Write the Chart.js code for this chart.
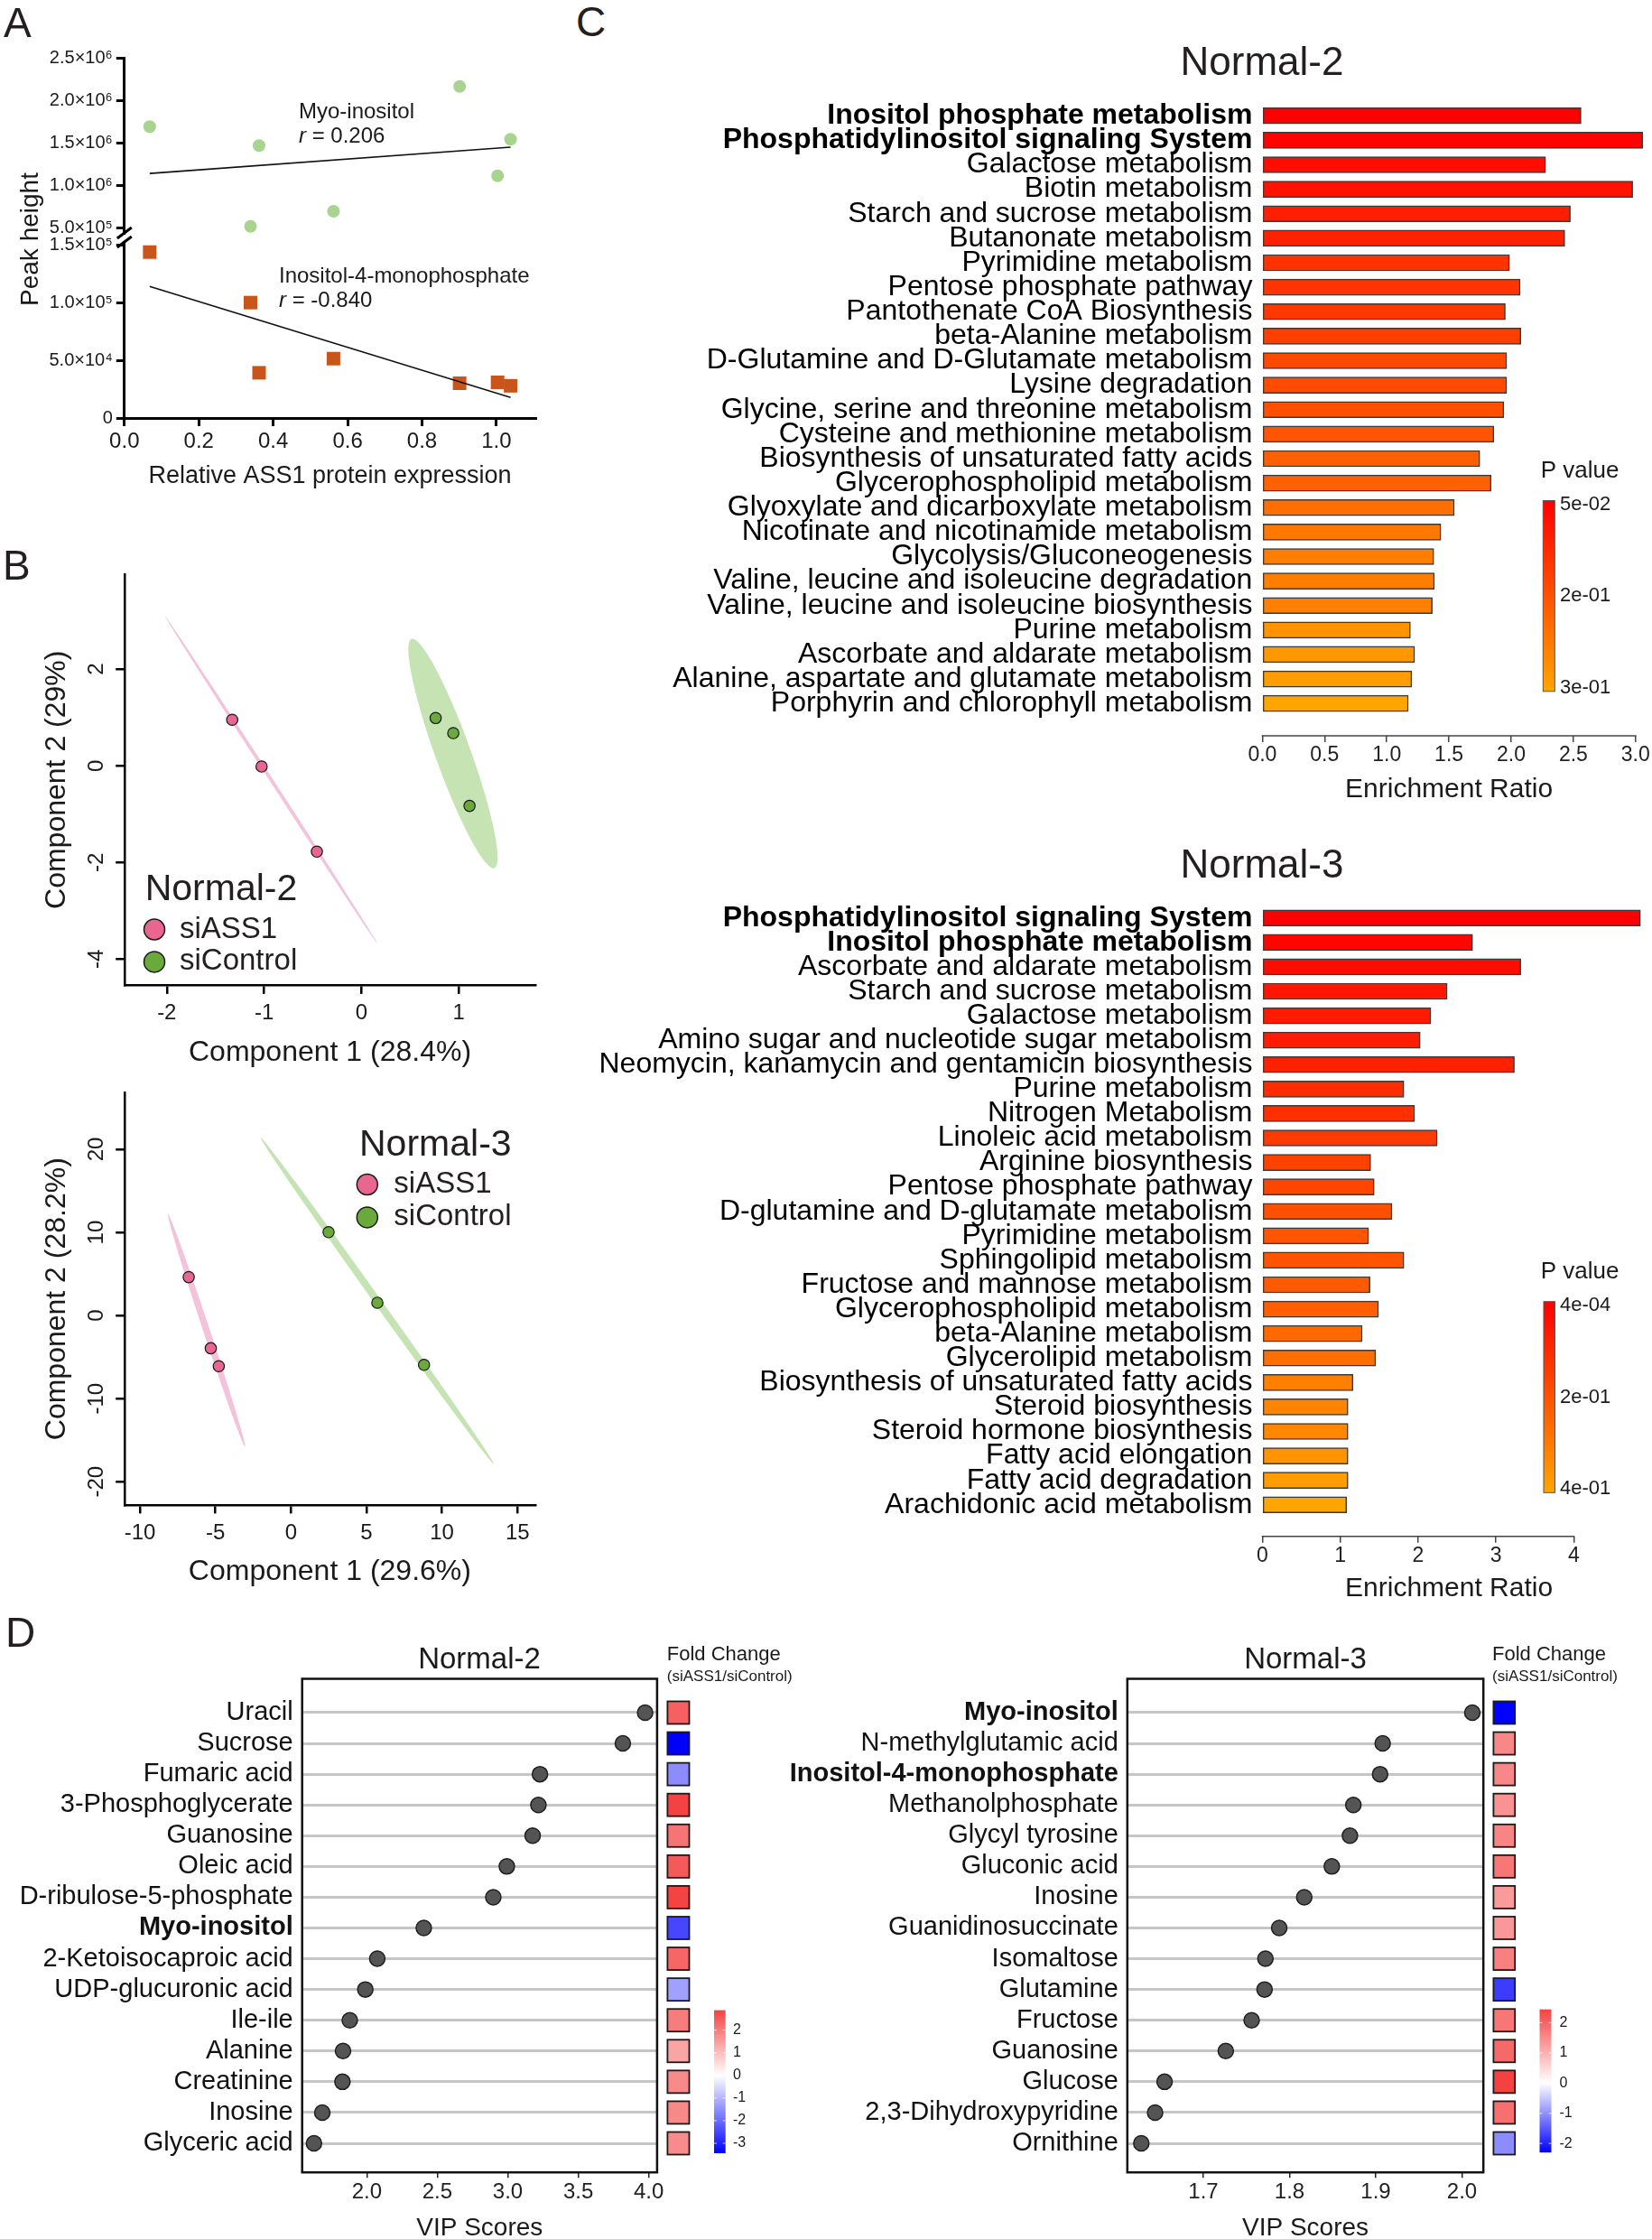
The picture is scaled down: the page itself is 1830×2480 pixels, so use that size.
<!DOCTYPE html>
<html><head><meta charset="utf-8"><title>ASS1 metabolomics figure</title>
<script src="https://cdn.jsdelivr.net/npm/chart.js@4.4.1/dist/chart.umd.min.js"></script>
<style>
html,body{margin:0;padding:0;background:#fff;}
body{position:relative;width:1830px;height:2480px;overflow:hidden;font-family:"Liberation Sans",Arial,Helvetica,sans-serif;color:#1a1a1a;}
canvas{position:absolute;}
.t{position:absolute;white-space:nowrap;line-height:1;}
</style></head>
<body>
<script>
// ================= DATA =================
// Panel A
const aExpr = [0.068, 0.339, 0.362, 0.562, 0.901, 1.003, 1.038];
const aMyoInositol = [1.696e6, 0.518e6, 1.472e6, 0.697e6, 2.170e6, 1.116e6, 1.547e6];
const aIns4P = [1.442e5, 1.003e5, 3.93e4, 5.16e4, 3.02e4, 3.10e4, 2.80e4];
const aMyoFitX = [0.068, 1.038], aMyoFitY = [1.143e6, 1.453e6];
const aInsFitX = [0.068, 1.038], aInsFitY = [1.143e5, 1.79e4];
const aXTicks = [0, 0.2, 0.4, 0.6, 0.8, 1.0];
const aUpperTicks = [5e5, 1e6, 1.5e6, 2e6, 2.5e6];
const aUpperTickLabels = ['5.0×10⁵', '1.0×10⁶', '1.5×10⁶', '2.0×10⁶', '2.5×10⁶'];
const aLowerTicks = [0, 5e4, 1e5, 1.5e5];
const aLowerTickLabels = ['0', '5.0×10⁴', '1.0×10⁵', '1.5×10⁵'];

// Panel B
const bGroups = ['siASS1', 'siControl'];
const b2SiASS1X = [-1.328, -1.026, -0.458], b2SiASS1Y = [0.952, -0.015, -1.776];
const b2SiCtrlX = [0.763, 0.944, 1.111], b2SiCtrlY = [0.988, 0.676, -0.829];
const b2EllASS1 = {from: [-2.018, 3.094], to: [0.163, -3.675], ratio: 0.009};
const b2EllCtrl = {from: [0.515, 2.626], to: [1.367, -2.118], ratio: 0.145};
const b2XTicks = [-2, -1, 0, 1], b2YTicks = [-4, -2, 0, 2];
const b3SiASS1X = [-6.77, -5.31, -4.78], b3SiASS1Y = [4.62, -3.94, -6.10];
const b3SiCtrlX = [2.49, 5.72, 8.81], b3SiCtrlY = [10.03, 1.54, -5.94];
const b3EllASS1 = {from: [-8.14, 12.19], to: [-3.04, -15.8], ratio: 0.027};
const b3EllCtrl = {from: [-2.01, 21.41], to: [13.43, -17.87], ratio: 0.018};
const b3XTicks = [-10, -5, 0, 5, 10, 15], b3YTicks = [-20, -10, 0, 10, 20];

// Panel C
const cN2Paths = ['Inositol phosphate metabolism','Phosphatidylinositol signaling System','Galactose metabolism','Biotin metabolism','Starch and sucrose metabolism','Butanonate metabolism','Pyrimidine metabolism','Pentose phosphate pathway','Pantothenate CoA Biosynthesis','beta-Alanine metabolism','D-Glutamine and D-Glutamate metabolism','Lysine degradation','Glycine, serine and threonine metabolism','Cysteine and methionine metabolism','Biosynthesis of unsaturated fatty acids','Glycerophospholipid metabolism','Glyoxylate and dicarboxylate metabolism','Nicotinate and nicotinamide metabolism','Glycolysis/Gluconeogenesis','Valine, leucine and isoleucine degradation','Valine, leucine and isoleucine biosynthesis','Purine metabolism','Ascorbate and aldarate metabolism','Alanine, aspartate and glutamate metabolism','Porphyrin and chlorophyll metabolism'];
const cN2Ratio = [2.562,3.057,2.277,2.977,2.476,2.431,1.987,2.072,1.953,2.078,1.964,1.964,1.941,1.861,1.748,1.839,1.543,1.435,1.378,1.383,1.366,1.190,1.224,1.201,1.173];
const cN2P = [0.050,0.055,0.071,0.077,0.096,0.100,0.126,0.129,0.135,0.144,0.159,0.162,0.171,0.179,0.194,0.196,0.217,0.232,0.241,0.241,0.244,0.274,0.280,0.286,0.300];
const cN2Bold = [0, 1];
const cN2XTicks = [0, 0.5, 1.0, 1.5, 2.0, 2.5, 3.0];
const cN2PRange = [0.05, 0.3];
const cN2PLabels = ['5e-02', '2e-01', '3e-01'];

const cN3Paths = ['Phosphatidylinositol signaling System','Inositol phosphate metabolism','Ascorbate and aldarate metabolism','Starch and sucrose metabolism','Galactose metabolism','Amino sugar and nucleotide sugar metabolism','Neomycin, kanamycin and gentamicin biosynthesis','Purine metabolism','Nitrogen Metabolism','Linoleic acid metabolism','Arginine biosynthesis','Pentose phosphate pathway','D-glutamine and D-glutamate metabolism','Pyrimidine metabolism','Sphingolipid metabolism','Fructose and mannose metabolism','Glycerophospholipid metabolism','beta-Alanine metabolism','Glycerolipid metabolism','Biosynthesis of unsaturated fatty acids','Steroid biosynthesis','Steroid hormone biosynthesis','Fatty acid elongation','Fatty acid degradation','Arachidonic acid metabolism'];
const cN3Ratio = [4.855,2.700,3.318,2.373,2.164,2.027,3.236,1.818,1.955,2.245,1.391,1.436,1.664,1.364,1.818,1.382,1.491,1.282,1.455,1.164,1.100,1.100,1.100,1.100,1.082];
const cN3P = [0.0004,0.013,0.030,0.051,0.063,0.068,0.078,0.107,0.117,0.141,0.160,0.168,0.194,0.206,0.206,0.218,0.231,0.257,0.267,0.308,0.323,0.330,0.359,0.378,0.400];
const cN3Bold = [0, 1];
const cN3XTicks = [0, 1, 2, 3, 4];
const cN3PRange = [0.0004, 0.4];
const cN3PLabels = ['4e-04', '2e-01', '4e-01'];

// Panel D
const dN2Names = ['Uracil','Sucrose','Fumaric acid','3-Phosphoglycerate','Guanosine','Oleic acid','D-ribulose-5-phosphate','Myo-inositol','2-Ketoisocaproic acid','UDP-glucuronic acid','Ile-ile','Alanine','Creatinine','Inosine','Glyceric acid'];
const dN2Vip = [3.974,3.816,3.228,3.217,3.176,2.993,2.897,2.404,2.074,1.989,1.879,1.831,1.827,1.684,1.625];
const dN2FC = [2.42,-3.44,-1.55,2.88,2.12,2.51,2.86,-2.50,2.33,-1.28,1.98,1.37,1.78,1.80,1.76];
const dN2Bold = [7];
const dN2XTicks = [2.0, 2.5, 3.0, 3.5, 4.0];
const dN2FCRange = [-3.44, 2.88];
const dN2FCTicks = [2, 1, 0, -1, -2, -3];

const dN3Names = ['Myo-inositol','N-methylglutamic acid','Inositol-4-monophosphate','Methanolphosphate','Glycyl tyrosine','Gluconic acid','Inosine','Guanidinosuccinate','Isomaltose','Glutamine','Fructose','Guanosine','Glucose','2,3-Dihydroxypyridine','Ornithine'];
const dN3Vip = [2.012,1.908,1.905,1.874,1.870,1.849,1.817,1.788,1.772,1.771,1.756,1.726,1.655,1.644,1.628];
const dN3FC = [-2.30,1.54,1.54,1.41,1.59,1.77,1.29,1.33,1.64,-1.76,1.77,1.94,2.44,1.85,-1.04];
const dN3Bold = [0, 2];
const dN3XTicks = [1.7, 1.8, 1.9, 2.0];
const dN3FCRange = [-2.30, 2.44];
const dN3FCTicks = [2, 1, 0, -1, -2];

// ================= SETUP =================
const FONT = '"Liberation Sans", Arial, Helvetica, sans-serif';
Chart.defaults.font.family = FONT;
Chart.defaults.color = '#1a1a1a';
Chart.defaults.animation = false;
Chart.defaults.responsive = false;
Chart.defaults.maintainAspectRatio = false;
Chart.defaults.devicePixelRatio = 1;
Chart.defaults.events = [];
Chart.defaults.plugins.legend.display = false;
Chart.defaults.plugins.tooltip.enabled = false;

const xy = (xs, ys) => xs.map((x, i) => ({x: x, y: ys[i]}));
const PINK = '#e8668f', GREEN = '#6aaa3c';

function mkCanvas(b) {
  const c = document.createElement('canvas');
  c.width = b.w; c.height = b.h;
  c.style.left = b.l + 'px'; c.style.top = b.t + 'px';
  c.style.width = b.w + 'px'; c.style.height = b.h + 'px';
  document.body.appendChild(c);
  return c;
}
function txt(html, x, y, size, align, extra) {
  extra = extra || {};
  const d = document.createElement('div');
  d.className = 't'; d.innerHTML = html;
  d.style.left = x + 'px'; d.style.top = y + 'px'; d.style.fontSize = size + 'px';
  if (extra.bold) d.style.fontWeight = 'bold';
  if (extra.color) d.style.color = extra.color;
  const tx = align === 'center' ? '-50%' : align === 'right' ? '-100%' : '0';
  d.style.transform = 'translate(' + tx + ',-50%)' + (extra.rotate ? ' rotate(' + extra.rotate + 'deg)' : '');
  document.body.appendChild(d);
}
function pColor(p, lo, hi) {
  const t = Math.max(0, Math.min(1, (p - lo) / (hi - lo)));
  return 'rgb(255,' + Math.round(165 * t) + ',0)';
}
function fcColor(v, bottom, top) {
  const W = [255, 255, 255], R = [244, 66, 66], B = [0, 0, 255];
  const t = v >= 0 ? Math.min(1, v / top) : Math.min(1, v / bottom);
  const E = v >= 0 ? R : B;
  return 'rgb(' + W.map((w, k) => Math.round(w + (E[k] - w) * t)).join(',') + ')';
}
const fixedTicks = arr => s => { s.ticks = arr.map(v => ({value: v})); };

// ================= PANEL A =================
(function () {
  const boxU = {l: 0, t: 40, w: 620, h: 250}, areaU = {l: 137.8, r: 593.2, t: 64.2, b: 258};
  const boxL = {l: 0, t: 250, w: 620, h: 302}, areaL = {l: 137.8, r: 593.2, t: 268, b: 463};
  const slash = (where) => ({id: 'slash' + where, afterDraw(ch) {
    const c = ch.ctx, a = ch.chartArea, y = where === 'bottom' ? a.bottom : a.top;
    c.save(); c.strokeStyle = '#000'; c.lineWidth = 3;
    c.beginPath(); c.moveTo(a.left - 8, y + 6); c.lineTo(a.left + 8, y - 6); c.stroke(); c.restore();
  }});
  const yAxisCommon = {
    grid: {drawOnChartArea: false, tickLength: 9, color: '#000', lineWidth: 3},
    border: {color: '#000', width: 3}
  };
  new Chart(mkCanvas(boxU), {
    type: 'scatter',
    data: {datasets: [
      {data: xy(aMyoFitX, aMyoFitY), showLine: true, borderColor: '#111', borderWidth: 1.6, pointRadius: 0, clip: false},
      {data: xy(aExpr, aMyoInositol), pointStyle: 'circle', pointRadius: 7, pointBackgroundColor: '#a8d48f', pointBorderWidth: 0, clip: false}
    ]},
    options: {
      layout: {padding: {left: 0, top: areaU.t - boxU.t, right: boxU.l + boxU.w - areaU.r, bottom: boxU.t + boxU.h - areaU.b}},
      scales: {
        x: {type: 'linear', display: false, min: 0, max: 1.105},
        y: Object.assign({type: 'linear', min: 4.41e5, max: 2.507e6,
          afterFit: s => { s.width = areaU.l - boxU.l; },
          afterBuildTicks: fixedTicks(aUpperTicks),
          ticks: {callback: (v, i) => aUpperTickLabels[i], font: {size: 20}, padding: 4, autoSkip: false}}, yAxisCommon)
      }
    },
    plugins: [slash('bottom')]
  });
  new Chart(mkCanvas(boxL), {
    type: 'scatter',
    data: {datasets: [
      {data: xy(aInsFitX, aInsFitY), showLine: true, borderColor: '#111', borderWidth: 1.6, pointRadius: 0, clip: false},
      {data: xy(aExpr, aIns4P), pointStyle: 'rect', pointRadius: 10.6, pointBackgroundColor: '#c8561a', pointBorderWidth: 0, clip: false}
    ]},
    options: {
      layout: {padding: {left: 0, top: areaL.t - boxL.t, right: boxL.l + boxL.w - areaL.r, bottom: 0}},
      scales: {
        x: {type: 'linear', min: 0, max: 1.105,
          afterFit: s => { s.height = boxL.t + boxL.h - areaL.b; },
          afterBuildTicks: fixedTicks(aXTicks),
          ticks: {callback: v => v.toFixed(1), font: {size: 24}, padding: 2.6, autoSkip: false, maxRotation: 0},
          grid: {drawOnChartArea: false, tickLength: 9, color: '#000', lineWidth: 3},
          border: {color: '#000', width: 3},
          title: {display: true, text: 'Relative ASS1 protein expression', font: {size: 27}, padding: {top: 0, bottom: 7.8}, color: '#1a1a1a'}},
        y: Object.assign({type: 'linear', min: 0, max: 1.53e5,
          afterFit: s => { s.width = areaL.l - boxL.l; },
          afterBuildTicks: fixedTicks(aLowerTicks),
          ticks: {callback: (v, i) => aLowerTickLabels[i], font: {size: 20}, padding: 4, autoSkip: false}}, yAxisCommon)
      }
    },
    plugins: [slash('top')]
  });
  txt('A', 4, 24.5, 46, 'left', {color: '#231f20'});
  txt('Peak height', 32.5, 264.8, 28, 'center', {rotate: -90});
  txt('Myo-inositol', 331, 122.8, 24, 'left');
  txt('<i>r</i> = 0.206', 331, 150, 24, 'left');
  txt('Inositol-4-monophosphate', 309, 304.5, 24, 'left');
  txt('<i>r</i> = -0.840', 309, 331.5, 24, 'left');
})();

// ================= PANEL B =================
function ellipsePlugin(list) {
  return {id: 'ell', beforeDatasetsDraw(ch) {
    const c = ch.ctx, xs = ch.scales.x, ys = ch.scales.y;
    c.save();
    list.forEach(e => {
      const x1 = xs.getPixelForValue(e.from[0]), y1 = ys.getPixelForValue(e.from[1]);
      const x2 = xs.getPixelForValue(e.to[0]), y2 = ys.getPixelForValue(e.to[1]);
      const a = Math.hypot(x2 - x1, y2 - y1) / 2, ang = Math.atan2(y2 - y1, x2 - x1);
      c.beginPath(); c.ellipse((x1 + x2) / 2, (y1 + y2) / 2, a, Math.max(1, a * e.ratio), ang, 0, Math.PI * 2);
      c.fillStyle = e.color; c.fill();
    });
    c.restore();
  }};
}
function legendPlugin(box, lg) {
  return {id: 'lg', afterDraw(ch) {
    const c = ch.ctx; c.save();
    c.textBaseline = 'middle'; c.textAlign = 'left'; c.fillStyle = '#231f20';
    c.font = lg.titleSize + 'px ' + FONT; c.fillText(lg.title, lg.tx - box.l, lg.ty - box.t);
    lg.items.forEach(it => {
      c.beginPath(); c.arc(lg.cx - box.l, it.cy - box.t, lg.r, 0, Math.PI * 2);
      c.fillStyle = it.color; c.fill(); c.lineWidth = 1.5; c.strokeStyle = '#1a1a1a'; c.stroke();
      c.fillStyle = '#231f20'; c.font = lg.itemSize + 'px ' + FONT;
      c.fillText(it.label, lg.textX - box.l, it.cy - box.t);
    });
    c.restore();
  }};
}
function pcaChart(box, area, cfg) {
  new Chart(mkCanvas(box), {
    type: 'scatter',
    data: {datasets: cfg.groups.map(g => ({data: xy(g.x, g.y), pointRadius: 6.2, pointBackgroundColor: g.color,
      pointBorderColor: '#1a1a1a', pointBorderWidth: 1.2, clip: false}))},
    options: {
      layout: {padding: {left: 0, top: area.t - box.t, right: box.l + box.w - area.r, bottom: 0}},
      scales: {
        x: {type: 'linear', min: cfg.xMin, max: cfg.xMax,
          afterFit: s => { s.height = box.t + box.h - area.b; },
          afterBuildTicks: fixedTicks(cfg.xTicks),
          ticks: {callback: v => String(v), font: {size: 24}, padding: cfg.xPad, autoSkip: false, maxRotation: 0},
          grid: {drawOnChartArea: false, tickLength: 9.6, color: '#000', lineWidth: 2.5},
          border: {color: '#000', width: 2.5},
          title: {display: true, text: cfg.xTitle, font: {size: 32}, padding: {top: 0, bottom: cfg.xTitlePad}, color: '#1a1a1a'}},
        y: {type: 'linear', min: cfg.yMin, max: cfg.yMax,
          afterFit: s => { s.width = area.l - box.l; },
          afterBuildTicks: fixedTicks(cfg.yTicks),
          ticks: {callback: v => String(v), font: {size: 24}, padding: cfg.yPad, autoSkip: false, minRotation: 90, maxRotation: 90, crossAlign: 'center'},
          grid: {drawOnChartArea: false, tickLength: 9.6, color: '#000', lineWidth: 2.5},
          border: {color: '#000', width: 2.5},
          title: {display: true, text: cfg.yTitle, font: {size: 32}, padding: {top: 43.8, bottom: 0}, color: '#1a1a1a'}}
      }
    },
    plugins: [ellipsePlugin(cfg.ellipses), legendPlugin(box, cfg.legend)]
  });
}
pcaChart({l: 0, t: 600, w: 620, h: 590}, {l: 137.8, r: 593.2, t: 636.2, b: 1091.3}, {
  groups: [{x: b2SiASS1X, y: b2SiASS1Y, color: PINK}, {x: b2SiCtrlX, y: b2SiCtrlY, color: GREEN}],
  ellipses: [Object.assign({color: '#f2c3da'}, b2EllASS1), Object.assign({color: '#c6e3b4'}, b2EllCtrl)],
  xMin: -2.436, xMax: 1.789, yMin: -4.54, yMax: 3.96, xTicks: b2XTicks, yTicks: b2YTicks,
  xPad: 7.4, yPad: 10.5, xTitlePad: 5.1,
  xTitle: 'Component 1 (28.4%)', yTitle: 'Component 2 (29%)',
  legend: {title: 'Normal-2', tx: 160.7, ty: 985.9, titleSize: 41, itemSize: 33, cx: 171, r: 11.5, textX: 199,
    items: [{label: bGroups[0], color: PINK, cy: 1029.5}, {label: bGroups[1], color: GREEN, cy: 1065.4}]}
});
pcaChart({l: 0, t: 1170, w: 620, h: 600}, {l: 137.8, r: 593, t: 1210.6, b: 1666.8}, {
  groups: [{x: b3SiASS1X, y: b3SiASS1Y, color: PINK}, {x: b3SiCtrlX, y: b3SiCtrlY, color: GREEN}],
  ellipses: [Object.assign({color: '#f2c3da'}, b3EllASS1), Object.assign({color: '#c6e3b4'}, b3EllCtrl)],
  xMin: -11.03, xMax: 16.18, yMin: -22.78, yMax: 26.78, xTicks: b3XTicks, yTicks: b3YTicks,
  xPad: 7.8, yPad: 3.9, xTitlePad: 10.1,
  xTitle: 'Component 1 (29.6%)', yTitle: 'Component 2 (28.2%)',
  legend: {title: 'Normal-3', tx: 398, ty: 1268.8, titleSize: 41, itemSize: 33, cx: 406.8, r: 11.5, textX: 436.3,
    items: [{label: bGroups[0], color: PINK, cy: 1312}, {label: bGroups[1], color: GREEN, cy: 1348.4}]}
});
txt('B', 3, 626, 46, 'left', {color: '#231f20'});

// ================= PANEL C =================
function enrichPlugin(box, cb) {
  return {id: 'enr', afterDraw(ch) {
    const c = ch.ctx, xs = ch.scales.x, a = ch.chartArea, t = xs.ticks;
    c.save();
    const x1 = xs.getPixelForValue(t[0].value), x2 = xs.getPixelForValue(t[t.length - 1].value);
    c.strokeStyle = '#444'; c.lineWidth = 1.5;
    c.beginPath(); c.moveTo(x1 - 0.75, a.bottom); c.lineTo(x2 + 0.75, a.bottom); c.stroke();
    const X = cb.x - box.l, Y = cb.y - box.t;
    const g = c.createLinearGradient(0, Y, 0, Y + cb.h);
    g.addColorStop(0, pColor(cb.range[0], cb.range[0], cb.range[1]));
    g.addColorStop(1, pColor(cb.range[1], cb.range[0], cb.range[1]));
    c.fillStyle = g; c.fillRect(X, Y, cb.w, cb.h);
    c.strokeStyle = '#555'; c.lineWidth = 1; c.strokeRect(X, Y, cb.w, cb.h);
    c.fillStyle = '#1a1a1a'; c.textBaseline = 'middle'; c.textAlign = 'left';
    c.font = '22px ' + FONT;
    cb.labels.forEach((s, i) => {
      const f = i / (cb.labels.length - 1);
      c.fillText(s, cb.labelX - box.l, Y + 4 + f * (cb.h - 8));
    });
    c.font = '26px ' + FONT;
    c.fillText('P value', cb.titleX - box.l, cb.titleY - box.t);
    c.restore();
  }};
}
function enrichChart(box, area, cfg) {
  new Chart(mkCanvas(box), {
    type: 'bar',
    data: {datasets: [{
      data: cfg.vals.map((v, i) => ({x: v, y: i})),
      backgroundColor: cfg.p.map(p => pColor(p, cfg.pRange[0], cfg.pRange[1])),
      borderColor: '#3a3a3a', borderWidth: 1.5, borderSkipped: false, barThickness: 18, clip: false
    }]},
    options: {
      indexAxis: 'y',
      layout: {padding: {left: 0, top: area.t - box.t, right: box.l + box.w - area.r, bottom: 0}},
      scales: {
        x: {type: 'linear', min: 0, max: cfg.xMax,
          afterFit: s => { s.height = box.t + box.h - area.b; },
          afterBuildTicks: fixedTicks(cfg.xTicks),
          ticks: {callback: cfg.xFmt, font: {size: 23}, padding: cfg.xPad, autoSkip: false, maxRotation: 0, color: '#222'},
          grid: {drawOnChartArea: false, tickLength: 7, color: '#444', lineWidth: 1.5},
          border: {display: false},
          title: {display: true, text: 'Enrichment Ratio', font: {size: 30}, padding: {top: 0, bottom: cfg.titlePad}, color: '#1a1a1a'}},
        y: {type: 'linear', reverse: true, min: -0.5, max: cfg.yMax, offset: false,
          afterFit: s => { s.width = area.l - box.l; },
          afterBuildTicks: fixedTicks(cfg.cats.map((c, i) => i)),
          ticks: {callback: v => cfg.cats[v], autoSkip: false, padding: 3, color: '#000',
            font: ctx => ({family: FONT, size: 32, weight: cfg.bold.includes(ctx.index) ? 'bold' : 'normal'})},
          grid: {display: false, offset: false},
          border: {display: false}}
      }
    },
    plugins: [enrichPlugin(box, cfg.cbar)]
  });
}
enrichChart({l: 600, t: 60, w: 1230, h: 840}, {l: 1398.4, r: 1811.8, t: 114.7, b: 815}, {
  cats: cN2Paths, vals: cN2Ratio, p: cN2P, pRange: cN2PRange, bold: cN2Bold,
  xMax: 3.0, xTicks: cN2XTicks, xFmt: v => v.toFixed(1), xPad: 0.9, titlePad: 7, yMax: 25.32,
  cbar: {x: 1709.3, y: 554.5, w: 13, h: 211.3, range: cN2PRange, labels: cN2PLabels, labelX: 1728, titleX: 1706.7, titleY: 521.5}
});
enrichChart({l: 600, t: 940, w: 1230, h: 840}, {l: 1398.4, r: 1811.8, t: 1003.2, b: 1701.7}, {
  cats: cN3Paths, vals: cN3Ratio, p: cN3P, pRange: cN3PRange, bold: cN3Bold,
  xMax: 4.792, xTicks: cN3XTicks, xFmt: v => String(v), xPad: 0.8, titlePad: 2, yMax: 25.29,
  cbar: {x: 1710, y: 1441.7, w: 12.5, h: 211.6, range: cN3PRange, labels: cN3PLabels, labelX: 1728, titleX: 1706.7, titleY: 1409}
});
txt('C', 638, 24, 46, 'left', {color: '#231f20'});
txt('Normal-2', 1398, 68.3, 44, 'center', {color: '#231f20'});
txt('Normal-3', 1398, 956.7, 44, 'center', {color: '#231f20'});

// ================= PANEL D =================
function vipPlugin(box, cfg) {
  return {id: 'vip', afterDraw(ch) {
    const c = ch.ctx, a = ch.chartArea, ys = ch.scales.y;
    c.save();
    c.strokeStyle = '#111'; c.lineWidth = 2.5;
    c.strokeRect(a.left, a.top, a.right - a.left, a.bottom - a.top);
    const sx = cfg.sqX - box.l;
    cfg.fc.forEach((v, i) => {
      const y = ys.getPixelForValue(i);
      c.fillStyle = fcColor(v, cfg.range[0], cfg.range[1]);
      c.fillRect(sx, y - 12.5, cfg.sqW, 25);
      c.lineWidth = 1.8; c.strokeStyle = '#1a1a1a'; c.strokeRect(sx, y - 12.5, cfg.sqW, 25);
    });
    const X = cfg.cb.x - box.l, Y = cfg.cb.y - box.t, H = cfg.cb.h, W = cfg.cb.w;
    const lo = cfg.range[0], hi = cfg.range[1];
    const g = c.createLinearGradient(0, Y, 0, Y + H);
    [hi, 0, lo].forEach(v => g.addColorStop((hi - v) / (hi - lo), fcColor(v, lo, hi)));
    c.fillStyle = g; c.fillRect(X, Y, W, H);
    c.fillStyle = '#1a1a1a'; c.textBaseline = 'middle'; c.textAlign = 'left'; c.font = '16px ' + FONT;
    cfg.cbTicks.forEach(v => {
      const y = Y + (hi - v) / (hi - lo) * H;
      c.strokeStyle = 'rgba(255,255,255,0.8)'; c.lineWidth = 1;
      c.beginPath(); c.moveTo(X, y); c.lineTo(X + 3, y); c.moveTo(X + W - 3, y); c.lineTo(X + W, y); c.stroke();
      c.fillText(String(v), cfg.cb.labelX - box.l, y);
    });
    c.restore();
  }};
}
function vipChart(box, area, cfg) {
  new Chart(mkCanvas(box), {
    type: 'scatter',
    data: {datasets: [{data: xy(cfg.vip, cfg.names.map((n, i) => i)), pointRadius: 8.5,
      pointBackgroundColor: '#545454', pointBorderColor: '#1e1e1e', pointBorderWidth: 1.5, clip: false}]},
    options: {
      layout: {padding: {left: 0, top: area.t - box.t, right: box.l + box.w - area.r, bottom: 0}},
      scales: {
        x: {type: 'linear', min: cfg.xMin, max: cfg.xMax,
          afterFit: s => { s.height = box.t + box.h - area.b; },
          afterBuildTicks: fixedTicks(cfg.xTicks),
          ticks: {callback: v => v.toFixed(1), font: {size: 24}, padding: 1.6, autoSkip: false, maxRotation: 0, color: '#222'},
          grid: {drawOnChartArea: false, tickLength: 6, color: '#222', lineWidth: 1.5},
          border: {display: false},
          title: {display: true, text: 'VIP Scores', font: {size: 28}, padding: {top: 0, bottom: 15.4}, color: '#1a1a1a'}},
        y: {type: 'linear', reverse: true, min: -1.1, max: 14.945,
          afterFit: s => { s.width = area.l - box.l; },
          afterBuildTicks: fixedTicks(cfg.names.map((n, i) => i)),
          ticks: {callback: v => cfg.names[v], autoSkip: false, padding: 10, color: '#111',
            font: ctx => ({family: FONT, size: 29, weight: cfg.bold.includes(ctx.index) ? 'bold' : 'normal'})},
          grid: {drawTicks: false, color: '#c6c6c6', lineWidth: 3},
          border: {display: false}}
      }
    },
    plugins: [vipPlugin(box, cfg)]
  });
}
vipChart({l: 0, t: 1800, w: 870, h: 700}, {l: 334.7, r: 727.9, t: 1859.5, b: 2406.2}, {
  names: dN2Names, vip: dN2Vip, fc: dN2FC, bold: dN2Bold, xMin: 1.541, xMax: 4.059, xTicks: dN2XTicks,
  range: dN2FCRange, sqX: 739.4, sqW: 24.1, cbTicks: dN2FCTicks,
  cb: {x: 791, y: 2226.6, w: 12.7, h: 158.4, labelX: 812}
});
vipChart({l: 870, t: 1800, w: 960, h: 700}, {l: 1248.8, r: 1643.2, t: 1859.5, b: 2406.2}, {
  names: dN3Names, vip: dN3Vip, fc: dN3FC, bold: dN3Bold, xMin: 1.6118, xMax: 2.0248, xTicks: dN3XTicks,
  range: dN3FCRange, sqX: 1654.4, sqW: 23.8, cbTicks: dN3FCTicks,
  cb: {x: 1705.5, y: 2225.7, w: 13, h: 158.5, labelX: 1727.4}
});
txt('D', 6, 1808, 46, 'left', {color: '#231f20'});
txt('Normal-2', 531, 1836, 33, 'center');
txt('Normal-3', 1446, 1836, 33, 'center');
txt('Fold Change', 738.8, 1831.8, 22, 'left');
txt('(siASS1/siControl)', 738.8, 1856, 17, 'left');
txt('Fold Change', 1653, 1831.8, 22, 'left');
txt('(siASS1/siControl)', 1653, 1856, 17, 'left');
</script>
</body></html>
